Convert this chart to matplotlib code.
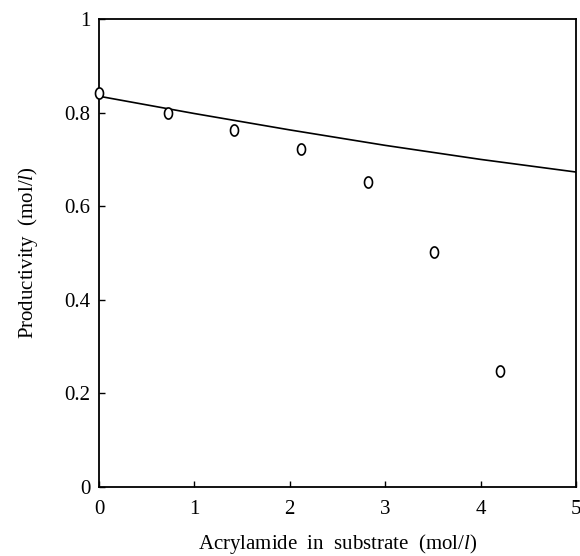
import matplotlib
matplotlib.use("Agg")
import matplotlib.pyplot as plt
import numpy as np
from matplotlib.path import Path

plt.rcParams['font.family'] = ['Liberation Serif', 'DejaVu Serif']
plt.rcParams['mathtext.fontset'] = 'custom'
plt.rcParams['mathtext.rm'] = 'Liberation Serif'
plt.rcParams['mathtext.it'] = 'Liberation Serif:italic'

# Data
acryl_x = [0.0, 0.72, 1.42, 2.12, 2.82, 3.51, 4.20]
productivity = [0.842, 0.800, 0.763, 0.722, 0.652, 0.502, 0.248]
model_x = [0, 1, 2, 3, 4, 5]
model_y = [0.835, 0.798, 0.763, 0.730, 0.700, 0.673]
xticks = [0, 1, 2, 3, 4, 5]
yticks = [0, 0.2, 0.4, 0.6, 0.8, 1.0]
ytick_labels = ["0", "0.2", "0.4", "0.6", "0.8", "1"]

# elliptical "o" marker
t = np.linspace(0, 2*np.pi, 60)
verts = np.column_stack([0.72*np.cos(t), np.sin(t)])
omark = Path(verts, closed=True)

fig = plt.figure(figsize=(5.8, 5.56), dpi=100)
ax = fig.add_axes([99/580, 1-487/556, (576-99)/580, (487-19)/556])

ax.plot(model_x, model_y, color='black', lw=1.2, zorder=2)
ax.plot(acryl_x, productivity, linestyle='none', marker=omark, markersize=8,
        markerfacecolor='white', markeredgecolor='black', markeredgewidth=1.2,
        clip_on=False, zorder=3)

ax.set_xlim(0, 5)
ax.set_ylim(0, 1)
ax.set_xticks(xticks)
ax.set_xticklabels([str(v) for v in xticks])
ax.set_yticks(yticks)
ax.set_yticklabels(ytick_labels)
ax.tick_params(direction='in', length=4, width=1, labelsize=15, colors='black')
ax.tick_params(axis='x', pad=9)
ax.tick_params(axis='y', pad=6)
for s in ax.spines.values():
    s.set_linewidth(1.3)

ax.set_xlabel(r"Acrylamide  in  substrate  (mol/$\it{l}$)", fontsize=15, labelpad=10)
ax.set_ylabel(r"Productivity  (mol/$\it{l}$)", fontsize=15, labelpad=18)

fig.savefig("out.png", dpi=100)
